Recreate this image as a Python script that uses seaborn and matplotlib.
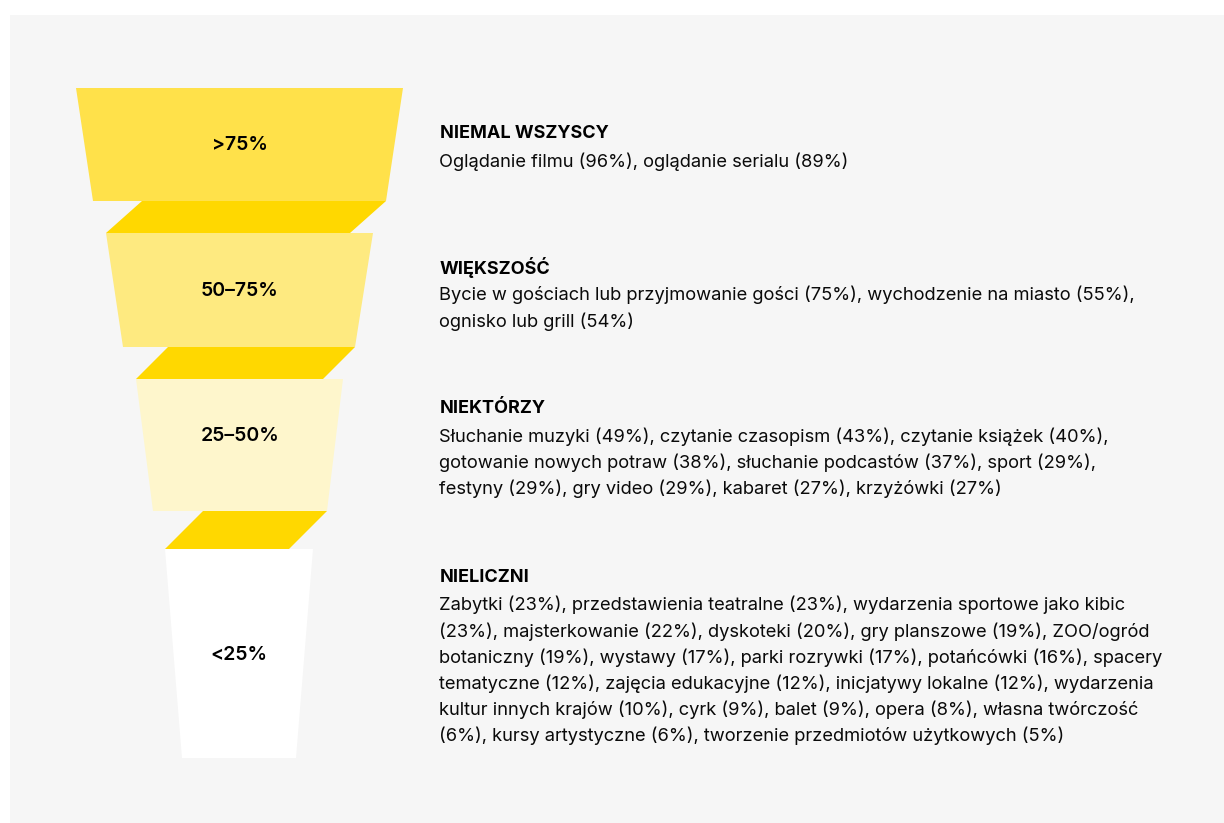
import seaborn as sns
import matplotlib.pyplot as plt
from matplotlib.patches import Polygon, Rectangle

# Data
levels = ['>75%', '50–75%', '25–50%', '<25%']
groups = ['NIEMAL WSZYSCY', 'WIĘKSZOŚĆ', 'NIEKTÓRZY', 'NIELICZNI']
descriptions = [
    'Oglądanie filmu (96%), oglądanie serialu (89%)',
    'Bycie w gościach lub przyjmowanie gości (75%), wychodzenie na miasto (55%),\n'
    'ognisko lub grill (54%)',
    'Słuchanie muzyki (49%), czytanie czasopism (43%), czytanie książek (40%),\n'
    'gotowanie nowych potraw (38%), słuchanie podcastów (37%), sport (29%),\n'
    'festyny (29%), gry video (29%), kabaret (27%), krzyżówki (27%)',
    'Zabytki (23%), przedstawienia teatralne (23%), wydarzenia sportowe jako kibic\n'
    '(23%), majsterkowanie (22%), dyskoteki (20%), gry planszowe (19%), ZOO/ogród\n'
    'botaniczny (19%), wystawy (17%), parki rozrywki (17%), potańcówki (16%), spacery\n'
    'tematyczne (12%), zajęcia edukacyjne (12%), inicjatywy lokalne (12%), wydarzenia\n'
    'kultur innych krajów (10%), cyrk (9%), balet (9%), opera (8%), własna twórczość\n'
    '(6%), kursy artystyczne (6%), tworzenie przedmiotów użytkowych (5%)',
]
level_colors = ['#FFE14A', '#FEEA80', '#FEF6CC', '#FFFFFF']
connector_color = '#FFD800'

# Layout (pixel space): funnel segments as (top_y, bottom_y, top_l, top_r, bot_l, bot_r)
segments = [
    (88, 201, 76, 403, 93, 386),
    (233, 347, 106, 373, 123, 355),
    (379, 511, 136, 343, 153, 327),
    (549, 758, 165, 313, 182, 296),
]
connector_width = [244, 187, 124]
label_y = [145, 291, 436, 655]
heading_y = [133, 267, 408, 577]

sns.set_theme(style='white')
plt.rcParams['font.family'] = ['Inter', 'DejaVu Sans']

fig = plt.figure(figsize=(12.24, 8.23), dpi=100)
fig.patch.set_facecolor('white')
ax = fig.add_axes([0, 0, 1, 1])
ax.set_xlim(0, 1224)
ax.set_ylim(823, 0)
ax.axis('off')

ax.add_patch(Rectangle((10, 15), 1214, 808, color='#F6F6F6', lw=0, zorder=0))

for i, (ty, by, tl, tr, bl, br) in enumerate(segments):
    ax.add_patch(Polygon([(tl, ty), (tr, ty), (br, by), (bl, by)], closed=True,
                         facecolor=level_colors[i], edgecolor='none', zorder=2))
    ax.text((tl + tr + bl + br) / 4, label_y[i], levels[i], ha='center', va='center',
            fontsize=14, fontweight='semibold', color='#000000', zorder=3)
    if i < len(segments) - 1:
        nty, _, ntl, _, _, _ = segments[i + 1]
        w = connector_width[i]
        ax.add_patch(Polygon([(br - w, by), (br, by), (ntl + w, nty), (ntl, nty)], closed=True,
                             facecolor=connector_color, edgecolor='none', zorder=1))

for i, (g, d) in enumerate(zip(groups, descriptions)):
    ax.text(440, heading_y[i], g, ha='left', va='center', fontsize=13,
            fontweight='bold', color='#000000')
    ax.text(439, heading_y[i] + 19, d, ha='left', va='top', fontsize=13.2,
            color='#0a0a0a', linespacing=1.53)

fig.savefig('out.png', dpi=100, facecolor='white')
